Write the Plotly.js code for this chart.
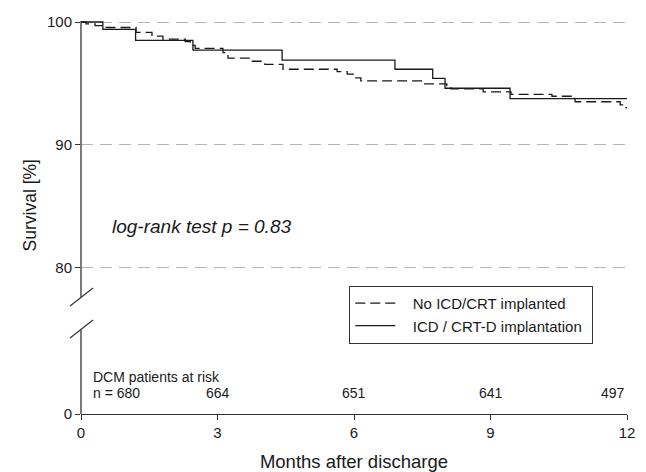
<!DOCTYPE html>
<html>
<head>
<meta charset="utf-8">
<script src="https://cdn.plot.ly/plotly-3.0.1.min.js"></script>
<style>html,body{margin:0;padding:0;background:#fff;}#chart{width:646px;height:472px;}</style>
</head>
<body>
<div id="chart"></div>
<script>
// Kaplan-Meier step data (months, survival %)
const monthsNoICD = [0, 0.11, 0.31, 0.48, 1.21, 1.56, 1.8, 2.29, 2.4, 2.51, 3.12, 3.23, 3.71, 4.04, 4.44, 5.63, 5.85, 5.98, 6.15, 7.52, 8.04, 8.13, 8.84, 9.45, 10.35, 10.86, 11.85, 11.98, 12];
const survNoICD   = [100, 99.85, 99.7, 99.55, 99.15, 98.85, 98.6, 98.4, 98.1, 97.85, 97.5, 97.05, 96.8, 96.55, 96.15, 95.95, 95.75, 95.45, 95.2, 94.95, 94.75, 94.55, 94.3, 94.1, 93.95, 93.5, 93.25, 93.0, 93.0];
const monthsICD = [0, 0.48, 1.2, 2.46, 4.42, 6.9, 7.73, 8.0, 9.43, 12];
const survICD   = [100, 99.4, 98.5, 97.7, 96.9, 96.15, 95.4, 94.6, 93.75, 93.75];

const atRiskMonths = [0, 3, 6, 9, 12];
const atRiskCounts = [680, 664, 651, 641, 497];

const yTickVals = [68.05, 80, 90, 100];   // 68.05 is the display position of the broken-axis "0"
const yTickText = ['0', '80', '90', '100'];
const xTickVals = [0, 3, 6, 9, 12];

const FONT = 'Liberation Sans, Arial, sans-serif';
const INK = '#1a1a1a';
const PAD = '\u00a0\u00a0\u00a0';

const traces = [
  {x: monthsNoICD, y: survNoICD, mode: 'lines', name: PAD + 'No ICD/CRT implanted',
   line: {shape: 'hv', color: INK, width: 1.3, dash: '10px,5px'}},
  {x: monthsICD, y: survICD, mode: 'lines', name: PAD + 'ICD / CRT-D implantation' + '\u00a0',
   line: {shape: 'hv', color: INK, width: 1.3}}
];

const annotations = [
  {xref: 'paper', yref: 'paper', x: 0.053, y: 0.477, xanchor: 'left', yanchor: 'middle',
   text: '<i>log-rank test p = 0.83</i>', showarrow: false, font: {family: FONT, size: 19, color: INK}},
  {xref: 'paper', yref: 'paper', x: -0.093, y: 0.53, xanchor: 'center', yanchor: 'middle',
   text: 'Survival [%]', textangle: -90, showarrow: false, font: {family: FONT, size: 17.5, color: INK}},
  {xref: 'x', yref: 'paper', x: 0, xshift: 10, y: 0.094, xanchor: 'left', yanchor: 'middle',
   text: 'DCM patients at risk', showarrow: false, font: {family: FONT, size: 14, color: INK}}
];
atRiskCounts.forEach((c, i) => {
  const first = i === 0, last = i === atRiskCounts.length - 1;
  annotations.push({
    xref: 'x', yref: 'paper', x: atRiskMonths[i], y: 0.053,
    xanchor: first ? 'left' : (last ? 'right' : 'center'), xshift: first ? 10 : 0,
    yanchor: 'middle', text: first ? 'n = ' + c : String(c), showarrow: false,
    font: {family: FONT, size: 14, color: INK}
  });
});

const axisCol = '#333';
const shapes = [
  // broken y-axis line
  {type: 'line', xref: 'paper', yref: 'paper', x0: 0, x1: 0, y0: 0.297, y1: 0.9975, line: {color: axisCol, width: 1.3}},
  {type: 'line', xref: 'paper', yref: 'paper', x0: 0, x1: 0, y0: 0, y1: 0.213, line: {color: axisCol, width: 1.3}},
  // break marks
  {type: 'line', xref: 'paper', yref: 'paper', x0: -0.0201, x1: 0.0220, y0: 0.2741, y1: 0.3198, line: {color: axisCol, width: 1.2}},
  {type: 'line', xref: 'paper', yref: 'paper', x0: -0.0201, x1: 0.0220, y0: 0.1929, y1: 0.2386, line: {color: axisCol, width: 1.2}}
];

const layout = {
  width: 646, height: 472,
  margin: {l: 81, r: 19, t: 20, b: 58},
  paper_bgcolor: '#fff', plot_bgcolor: '#fff',
  font: {family: FONT, color: INK, size: 14},
  showlegend: true,
  legend: {x: 0.491, y: 0.3256, xanchor: 'left', yanchor: 'top',
           bordercolor: '#333', borderwidth: 1.2, bgcolor: '#fff',
           font: {family: FONT, size: 15, color: INK}, itemwidth: 40,
           tracegroupgap: 0},
  xaxis: {range: [0, 12], tickvals: xTickVals, ticks: 'outside', ticklen: 5, tickcolor: axisCol,
          showline: true, linecolor: axisCol, linewidth: 1.3, showgrid: false, zeroline: false,
          tickfont: {family: FONT, size: 15, color: INK},
          title: {text: 'Months after discharge', font: {family: FONT, size: 18.5, color: INK}, standoff: 17}},
  yaxis: {range: [68.05, 100.163], tickvals: yTickVals, ticktext: yTickText, ticks: 'outside', ticklen: 5,
          tickcolor: axisCol, showline: false, zeroline: false, showgrid: true,
          gridcolor: '#b5b5b5', griddash: '12px,7px', gridwidth: 1,
          tickfont: {family: FONT, size: 15, color: INK}},
  annotations: annotations,
  shapes: shapes
};

Plotly.newPlot('chart', traces, layout, {staticPlot: true, displayModeBar: false});
</script>
</body>
</html>
